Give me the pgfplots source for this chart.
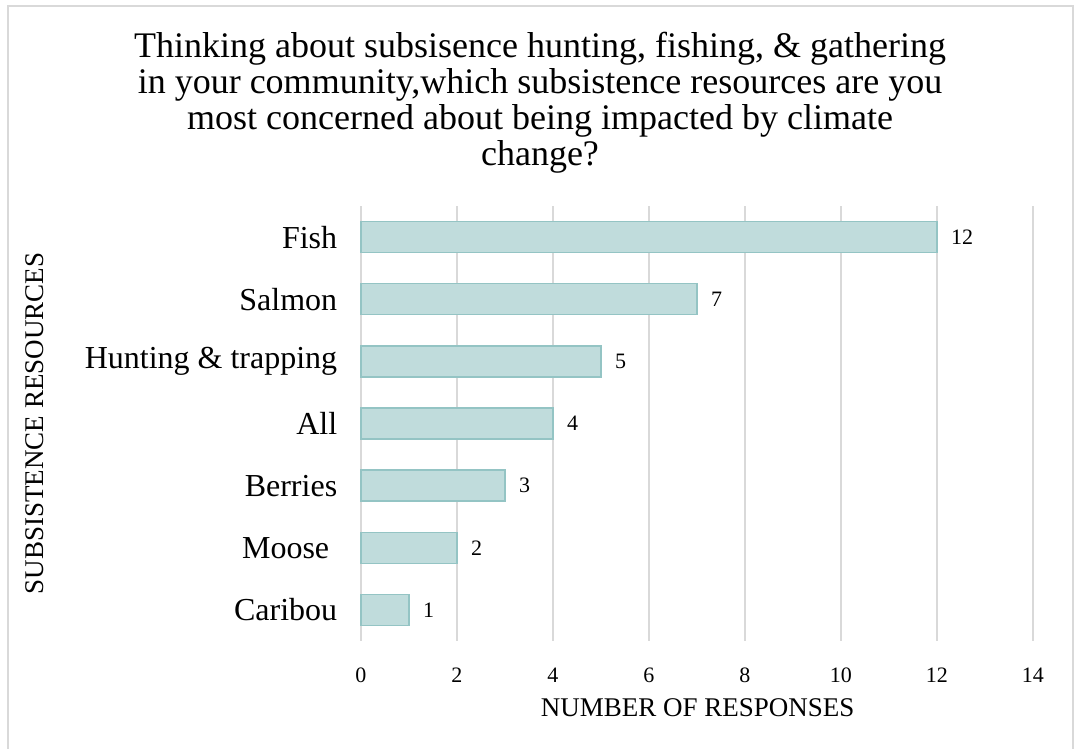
\documentclass[border=0pt]{standalone}
\usepackage{fontspec}
\setmainfont{Liberation Serif}
\usepackage{pgfplots}
\pgfplotsset{compat=1.18}

\definecolor{barfill}{RGB}{192,220,220}
\definecolor{baredge}{RGB}{148,196,196}
\definecolor{gridgray}{RGB}{217,217,217}

\begin{document}
\begin{tikzpicture}[x=1pt,y=1pt]
% page frame
\path[use as bounding box] (-361,-108) rectangle (713,641);
\draw[gridgray,line width=2pt] (-353,-120) -- (-353,635) -- (712,635) -- (712,-120);

\begin{axis}[
  at={(0,0)}, anchor=south west,
  scale only axis,
  width=672pt, height=435pt,
  xbar,
  bar width=31pt,
  xmin=0, xmax=14,
  ymin=-0.5, ymax=6.5,
  xtick={0,2,...,14},
  ytick={0,...,6},
  yticklabels={Caribou,{Moose\kern8pt},Berries,All,Hunting \& trapping,Salmon,Fish},
  axis line style={draw=none},
  tick style={draw=none},
  xmajorgrids,
  grid style={gridgray,line width=2pt},
  /pgf/number format/assume math mode=true,
  xticklabel style={font=\fontsize{22}{26}\selectfont, yshift=-23pt},
  yticklabel style={font=\fontsize{32}{38}\selectfont, xshift=-16pt},
  xlabel={NUMBER OF RESPONSES},
  ylabel={SUBSISTENCE RESOURCES},
  every axis x label/.style={at={(axis description cs:0.501,-0.154)},anchor=center,font=\fontsize{27}{32}\selectfont},
  every axis y label/.style={at={(axis description cs:-0.485,0.5)},rotate=90,anchor=center,font=\fontsize{27}{32}\selectfont},
  nodes near coords,
  nodes near coords style={anchor=west, xshift=10pt, font=\fontsize{22}{26}\selectfont, text=black},
  clip=false,
]
\addplot[fill=barfill, draw=baredge, line width=1.5pt] coordinates {
  (1,0) (2,1) (3,2) (4,3) (5,4) (7,5) (12,6)
};
\end{axis}

\node[align=center, font=\fontsize{36}{36}\selectfont] at (179,538)
  {Thinking about subsisence hunting, fishing, \& gathering\\
   in your community,which subsistence resources are you\\
   most concerned about being impacted by climate\\
   change?};
\end{tikzpicture}
\end{document}
